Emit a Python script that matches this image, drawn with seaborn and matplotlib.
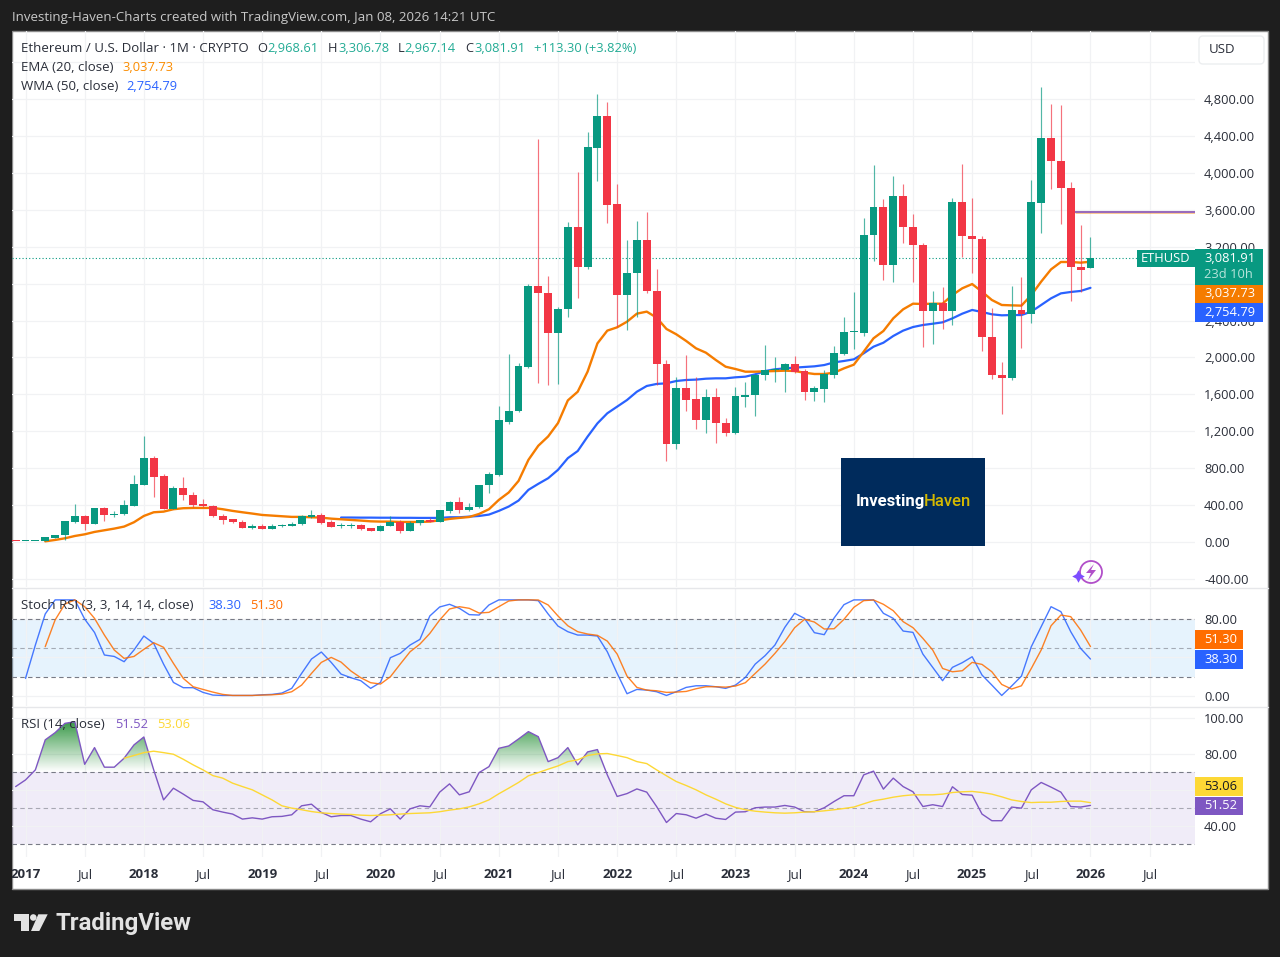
import numpy as np
import seaborn as sns
import matplotlib
matplotlib.use("Agg")
import matplotlib.pyplot as plt
from matplotlib.patches import Rectangle, Polygon, Circle, FancyBboxPatch
from matplotlib.path import Path

# monthly candles, Dec 2016 .. Jan 2026 (month 0 = Jan 2017)
opens = [8.2, 8, 10.7, 15.8, 43, 76, 214, 279, 192, 366, 290, 300, 395, 622, 905, 710, 358, 583, 510, 413, 395, 287,
         247, 218, 156, 170, 145, 170, 170, 192, 268, 294, 218, 170, 174, 181, 149, 123, 174, 218, 123, 207, 236,
         221, 337, 435, 348, 376, 615, 728, 1300, 1419, 1900, 2771, 2695, 2269, 2522, 3418, 2977, 4275, 4621, 3664,
         2677, 2912, 3270, 2720, 1926, 1062, 1673, 1546, 1319, 1568, 1293, 1178, 1572, 1593, 1806, 1861, 1864, 1929,
         1850, 1629, 1658, 1806, 2041, 2278, 2265, 3324, 3631, 3002, 3750, 3414, 3219, 2504, 2594, 2504, 3689, 3317,
         3288, 2222, 1810, 1781, 2515, 2471, 3678, 4375, 4130, 3837, 2984, 2968.61]
highs = [8.5, 11, 16, 55, 80, 232, 412, 297, 370, 380, 336, 456, 728, 1150, 935, 740, 608, 700, 540, 464, 402, 304,
         250, 235, 196, 200, 200, 196, 218, 294, 348, 312, 236, 210, 203, 192, 152, 189, 287, 240, 225, 243, 261,
         350, 446, 492, 427, 622, 757, 1477, 2034, 1936, 2793, 4368, 2880, 2544, 3465, 4014, 4448, 4856, 4769, 3880,
         3273, 3479, 3577, 2959, 1969, 1785, 2027, 1785, 1655, 1666, 1340, 1676, 1731, 1820, 2135, 2009, 1944, 2016,
         1875, 1691, 1861, 2128, 2439, 2706, 3515, 4086, 3721, 3967, 3880, 3555, 3237, 2721, 2760, 3732, 4094, 3732,
         3320, 2532, 1947, 2778, 2869, 3927, 4935, 4747, 4736, 3906, 3436, 3306.78]
lows = [7, 8, 10.4, 15.5, 42, 24, 203, 130, 190, 232, 275, 297, 390, 620, 492, 355, 355, 456, 377, 375, 268, 200,
        210, 150, 145, 140, 141, 165, 168, 188, 264, 192, 160, 156, 156, 134, 120, 120, 172, 94, 122, 181, 212,
        216, 319, 311, 340, 369, 536, 720, 1274, 1410, 1885, 1727, 1698, 1716, 2442, 2648, 2963, 3913, 3461, 2334,
        2298, 2442, 2700, 1702, 878, 1004, 1424, 1221, 1181, 1077, 1153, 1170, 1467, 1369, 1760, 1738, 1622, 1830,
        1539, 1532, 1521, 1781, 2030, 2092, 2236, 3049, 2843, 2815, 3237, 2815, 2117, 2150, 2305, 2352, 3093, 2919,
        2070, 1763, 1384, 1752, 2106, 2377, 3353, 3823, 3443, 2616, 2713, 2967.14]
closes = [8, 10.7, 15.8, 50, 80, 228, 279, 192, 366, 293, 305, 402, 630, 905, 703, 358, 583, 507, 405, 385, 283, 243,
          214, 156, 174, 145, 178, 185, 196, 280, 297, 210, 163, 181, 185, 145, 123, 178, 218, 123, 207, 236, 221,
          345, 435, 348, 384, 619, 738, 1318, 1423, 1911, 2771, 2699, 2269, 2525, 3418, 2984, 4278, 4621, 3656, 2677,
          2916, 3270, 2717, 1926, 1062, 1673, 1543, 1319, 1568, 1290, 1181, 1579, 1597, 1814, 1861, 1875, 1929, 1843,
          1629, 1666, 1817, 2049, 2273, 2282, 3328, 3631, 3002, 3750, 3411, 3216, 2504, 2594, 2504, 3689, 3317, 3284,
          2218, 1806, 1781, 2515, 2471, 3682, 4375, 4126, 3833, 2984, 2952, 3081.91]

# moving averages, both end on Jan 2026
ema20 = [7, 22, 40, 65, 83, 109, 127, 145, 167, 214, 282, 322, 329, 355, 366, 369, 369, 369, 355, 337, 322, 308, 293,
         286, 279, 272, 272, 268, 264, 253, 246, 239, 232, 224, 221, 221, 217, 217, 217, 221, 235, 250, 261, 271, 304,
         355, 456, 536, 662, 890, 1043, 1144, 1289, 1535, 1629, 1846, 2153, 2291, 2327, 2388, 2475, 2497, 2432, 2309,
         2251, 2179, 2099, 2052, 1973, 1900, 1875, 1846, 1846, 1850, 1853, 1857, 1853, 1835, 1821, 1821, 1835, 1882,
         1922, 2063, 2208, 2287, 2424, 2522, 2583, 2580, 2583, 2583, 2677, 2750, 2796, 2713, 2623, 2569, 2565, 2562,
         2677, 2822, 2955, 3035, 3035, 3028, 3037.73]
wma50 = [265, 265, 264, 264, 263, 263, 262, 262, 261, 261, 261, 268, 268, 275, 282, 297, 337, 384, 449, 565, 630, 691,
         782, 909, 986, 1142, 1286, 1395, 1467, 1539, 1629, 1691, 1713, 1720, 1745, 1756, 1760, 1770, 1774, 1774, 1785,
         1792, 1817, 1853, 1872, 1882, 1890, 1897, 1904, 1918, 1947, 1962, 1980, 2045, 2117, 2160, 2233, 2291, 2330,
         2352, 2366, 2381, 2424, 2475, 2515, 2493, 2468, 2457, 2460, 2460, 2497, 2569, 2641, 2695, 2710, 2721, 2754.79]

stoch_k = [18.1, 52.9, 85.3, 100, 100, 100, 80, 66, 42.5, 41, 35.5, 47.7, 62.3, 54.6, 33, 13.9, 8.4, 8.4, 3.5, 0.7, 0.3,
           0.3, 0.3, 0.3, 1, 1.4, 2.8, 7.7, 23.3, 38.3, 45.6, 34.8, 22.6, 18.8, 15.7, 7.7, 13.9, 39.7, 44.2, 52.9, 58.8,
           83.2, 92.6, 95.4, 91.2, 84.6, 84.2, 94.7, 100, 100, 100, 100, 99.2, 85.3, 72.7, 66.8, 63.3, 63.3, 62.3, 45.9,
           23.3, 2.1, 6.6, 5.9, 4.2, 0.3, 4.2, 8.7, 10.4, 10.4, 9.4, 7.7, 11.1, 19.1, 33, 41.8, 52.9, 71.3, 86, 80.7,
           65.8, 63.7, 81.1, 95, 100, 100, 100, 86, 80.7, 67.5, 66.1, 43.5, 29.6, 15.7, 29.6, 34.5, 40.7, 21.6, 11.1, 0.3,
           10.1, 20.5, 51.2, 72, 92.9, 87.7, 66.8, 49.4, 38.3]
stoch_d = [51.2, 79, 95.7, 100, 92.9, 80.7, 63.3, 47.7, 39, 41, 48.4, 55.3, 50.5, 33.8, 18.1, 9.4, 6.6, 3.8, 1.4, 0.3,
           0.3, 0.3, 0.7, 1, 1.7, 4.2, 11.1, 23.3, 34.8, 40, 35.1, 25.8, 18.8, 13.6, 12.2, 19.8, 33, 45.9, 53.9, 65, 79,
           90.5, 92.9, 91.2, 86.3, 87, 92.9, 98.8, 100, 100, 99.9, 94.7, 83.2, 73, 66.8, 64.4, 63, 57, 43.5, 20.5, 8.7,
           5.9, 5.2, 3.5, 3.8, 4.5, 7.3, 9.4, 9.4, 9, 10.1, 13.6, 23.3, 33, 44.2, 56.4, 71, 79.7, 76.9, 69.6, 69.9, 79.7,
           92.2, 99.2, 99.9, 95.4, 88.7, 77.3, 71, 59.9, 47.7, 28.5, 25, 26.1, 34.8, 32.7, 25, 11.8, 7, 10.4, 28.5, 47.7,
           73, 84.2, 82.5, 68.6, 51.3]

rsi = [62, 65.7, 71.3, 88, 92, 97.2, 98.1, 74.4, 83.7, 72.8, 72.8, 77.8, 85.2, 89.6, 71.3, 54.6, 61.1, 57.8, 54.3, 53.5,
       49.1, 47.8, 46.7, 43.9, 44.6, 43.9, 45.2, 45.4, 46.3, 51.3, 52.2, 47.6, 45.2, 45.9, 45.9, 43.9, 42.4, 46.9, 49.6,
       43.9, 49.6, 51.3, 50.7, 58.9, 63.5, 57.4, 59.1, 69.8, 73.1, 83.3, 84.6, 88.5, 92.6, 89.8, 75.9, 78.1, 83.7, 74.1,
       81.3, 82.6, 68.5, 56.5, 58.1, 60.7, 58.9, 50.9, 42, 47, 46.3, 44.4, 46.7, 44.4, 43.7, 47.8, 48, 50.2, 50.6, 50.6,
       51.5, 50.6, 48, 48, 50.2, 53.7, 56.9, 56.9, 68.5, 70.6, 60.6, 66.7, 62, 59.1, 50.9, 51.9, 50.9, 61.9, 57.6, 57.2,
       46.7, 43, 43, 50.6, 50, 60.2, 64.3, 61.7, 58.9, 50.9, 50.6, 51.52]
rsi_ma = [77.8, 79.3, 80.9, 81.7, 80.9, 80, 77.2, 74.1, 71.3, 68.1, 66.7, 63.9, 62, 60.2, 57.4, 54.6, 51.3, 50, 49.1, 48.1,
          47.4, 47, 46.7, 46.5, 46.1, 45.9, 46.1, 46.3, 46.7, 47, 47.2, 47.4, 48, 48.9, 49.6, 50.7, 52.4, 54.6, 58, 61.1,
          64.3, 68, 69.8, 71.7, 73.5, 75.9, 76.9, 79.3, 80.2, 80.4, 79.3, 78.1, 75.9, 74.8, 71.3, 68, 64.8, 62.6, 60.2,
          57.4, 55, 52.4, 50.4, 49.1, 48.3, 47.8, 47.4, 47.2, 47.4, 47.8, 48, 48.5, 49.1, 49.8, 50.6, 52.4, 54.1, 55, 56.1,
          56.9, 57.4, 57.4, 57.4, 57.8, 58.7, 59.1, 59.3, 58.7, 57.8, 56.3, 54.6, 53.7, 53.1, 53.3, 53.3, 53.7, 53.9, 53.9,
          53.06]

price_ticks = list(range(-400, 5201, 400))
stoch_ticks = [0, 40, 80]
rsi_ticks = [40, 60, 80, 100]
# these sit fully behind the price tags or the USD box in the reference
hidden_ticks = {5200, 2800}, {40}, {60}
tick_months = list(range(0, 115, 6))
tick_labels = [str(2017 + m // 12) if m % 12 == 0 else "Jul" for m in tick_months]
last_price = 3081.91
drawn_level = 3575
drawn_level_start = 106.4

GREEN, RED = "#089981", "#f23645"
ORANGE, BLUE = "#f57c00", "#2962ff"
TEXT = "#2a2e39"
BG = "#1e1e1e"
FONT = "Open Sans"

sns.set_theme(style="white")
plt.rcParams["font.family"] = [FONT, "DejaVu Sans"]

W, H = 1280, 957
fig = plt.figure(figsize=(W / 100, H / 100), dpi=100, facecolor=BG)


def pane(x0, y0, x1, y1, zorder=1):
    return fig.add_axes([x0 / W, 1 - y1 / H, (x1 - x0) / W, (y1 - y0) / H], zorder=zorder)


# white chart frame behind the panes
back = pane(0, 0, W, H, zorder=0)
back.set_xlim(0, W)
back.set_ylim(H, 0)
back.axis("off")
back.add_patch(Rectangle((12, 31), 1256, 858, fc="white", ec="#8a8a8a", lw=1))

months = np.arange(-1, 109)
xlim = (-1.37, 118.6)
ax_p = pane(12, 31, 1195, 587, 1)
ax_s = pane(12, 588, 1195, 706, 1)
ax_r = pane(12, 707, 1195, 857, 1)

for ax, ticks, hidden in zip((ax_p, ax_s, ax_r), (price_ticks, stoch_ticks, rsi_ticks), hidden_ticks):
    ax.patch.set_alpha(0)
    sns.despine(ax=ax, left=True, bottom=True, top=True, right=True)
    ax.set_xticks(tick_months)
    ax.set_yticks(ticks)
    ax.grid(True, color="#f1f2f4", lw=0.9)
    ax.set_axisbelow(True)
    ax.yaxis.tick_right()
    ax.set_yticklabels(["" if t in hidden else f"{t:,.2f}" for t in ticks])
    ax.tick_params(axis="y", length=0, pad=6.5, labelsize=9.3, labelcolor=TEXT)
    ax.tick_params(axis="x", length=0, labelbottom=False)
    ax.set_xlabel("")
    ax.set_ylabel("")

# candles
o, h, l, c = map(np.array, (opens, highs, lows, closes))
colors = np.where(c >= o, GREEN, RED)
ax_p.vlines(months, l, h, colors=colors, lw=0.85, alpha=0.7, zorder=2)
body = np.maximum(np.abs(c - o), 12)
ax_p.bar(months, body, bottom=np.minimum(o, c), width=0.8, color=colors, lw=0, zorder=2.2)

sns.lineplot(x=months[-len(ema20):], y=ema20, ax=ax_p, color=ORANGE, lw=1.7, zorder=1.6)
sns.lineplot(x=months[-len(wma50):], y=wma50, ax=ax_p, color=BLUE, lw=1.6, zorder=1.5)
ax_p.axhline(last_price, color=GREEN, lw=0.8, ls=(0, (1, 2)), zorder=1.4)
ax_p.hlines(drawn_level - 14, drawn_level_start, xlim[1], color=ORANGE, lw=0.5, alpha=0.6, zorder=1.7)
ax_p.hlines(drawn_level, drawn_level_start, xlim[1], color="#7b3fa8", lw=1.1, zorder=1.8)
ax_p.set_xlim(xlim)
ax_p.set_ylim(-488, 5539)

# stoch rsi
ax_s.axhspan(20, 80, color="#2196f3", alpha=0.11, lw=0, zorder=0.5)
for lvl in (20, 50, 80):
    ax_s.axhline(lvl, color="#787b86", lw=0.8, ls=(0, (4, 3)), alpha=0.6 if lvl == 50 else 1, zorder=1)
sns.lineplot(x=months[-len(stoch_k):], y=stoch_k, ax=ax_s, color=BLUE, lw=1, alpha=0.85, zorder=2)
sns.lineplot(x=months[-len(stoch_d):], y=stoch_d, ax=ax_s, color="#ff6d00", lw=1, alpha=0.85, zorder=2.1)
ax_s.set_xlim(xlim)
ax_s.set_ylim(-10.7, 112.4)

# rsi
ax_r.axhspan(30, 70, color="#7e57c2", alpha=0.11, lw=0, zorder=0.5)
for lvl in (30, 50, 70):
    ax_r.axhline(lvl, color="#787b86", lw=0.8, ls=(0, (4, 3)), alpha=0.6 if lvl == 50 else 1, zorder=1)
rsi_arr = np.array(rsi)
over = ax_r.fill_between(months, 70, rsi_arr, where=rsi_arr >= 70, interpolate=True, color="none", lw=0)
shade = np.zeros((64, 2, 4))
shade[..., :3] = (0.18, 0.58, 0.24)
shade[..., 3] = np.linspace(0, 1, 64)[:, None]
img = ax_r.imshow(shade, extent=(xlim[0], xlim[1], 70, 100), origin="lower", aspect="auto", zorder=1.5)
img.set_clip_path(Path.make_compound_path(*over.get_paths()), transform=ax_r.transData)
sns.lineplot(x=months, y=rsi, ax=ax_r, color="#7e57c2", lw=1, zorder=2)
sns.lineplot(x=months[-len(rsi_ma):], y=rsi_ma, ax=ax_r, color="#fdd835", lw=1, zorder=2.1)
ax_r.set_xlim(xlim)
ax_r.set_ylim(22.8, 106.3)

# time axis
ax_r.tick_params(axis="x", labelbottom=True, pad=8, labelsize=9.5, labelcolor=TEXT)
ax_r.set_xticklabels(tick_labels)
for lab, m in zip(ax_r.get_xticklabels(), tick_months):
    lab.set_fontweight("bold" if m % 12 == 0 else "normal")

# everything in pixels on top of the panes
top = pane(0, 0, W, H, zorder=5)
top.patch.set_alpha(0)
top.set_xlim(0, W)
top.set_ylim(H, 0)
top.axis("off")
top.add_patch(Rectangle((0, 31), 11.5, 858, fc=BG, ec="none"))
top.plot([12, 1268], [587.5, 587.5], color="#e6e7ea", lw=1)
top.plot([12, 1268], [706.5, 706.5], color="#e6e7ea", lw=1)


def label(x, y, s, color=TEXT, size=9.3, **kw):
    top.text(x, y + 0.8, s, color=color, fontsize=size, va="center", ha="left", **kw)


def tag(x0, y0, x1, y1, fc, s, color="white", tx=None):
    top.add_patch(Rectangle((x0, y0), x1 - x0, y1 - y0, fc=fc, ec="none"))
    label(tx if tx else x0 + 9, (y0 + y1) / 2 - 1, s, color=color)


TEAL = "#22ab94"
WORDS = 9.55
label(12, 17, "Investing-Haven-Charts created with TradingView.com, Jan 08, 2026 14:21 UTC", color="#c9c9c9", size=WORDS)
label(21, 48, "Ethereum / U.S. Dollar · 1M · CRYPTO", size=WORDS)
for x, s, col in ((257.5, "O", TEXT), (267, "2,968.61", TEAL), (328, "H", TEXT), (338, "3,306.78", TEAL),
                  (398, "L", TEXT), (404.5, "2,967.14", TEAL), (465, "C", TEXT), (474, "3,081.91", TEAL),
                  (534.5, "+113.30 (+3.82%)", TEAL)):
    label(x, 48, s, color=col)
label(21, 67, "EMA (20, close)", size=WORDS)
label(122, 67, "3,037.73", color="#fb8c00")
label(21, 86, "WMA (50, close)", size=WORDS)
label(126, 86, "2,754.79", color=BLUE)
label(21, 605, "Stoch RSI (3, 3, 14, 14, close)", size=WORDS)
label(208.5, 605, "38.30", color=BLUE)
label(250, 605, "51.30", color="#ff6d00")
label(21, 724, "RSI (14, close)", size=WORDS)
label(115, 724, "51.52", color="#7e57c2")
label(157, 724, "53.06", color="#fdd835")

# usd box
top.add_patch(FancyBboxPatch((1199, 36), 65, 28, boxstyle="round,pad=0,rounding_size=4", fc="white", ec="#eceef0", lw=1))
label(1209, 48.5, "USD", size=WORDS)

# price tags
tag(1137, 250, 1195, 267, GREEN, "ETHUSD", tx=1141)
top.add_patch(Rectangle((1195, 249), 68, 36, fc=GREEN, ec="none"))
label(1204, 257.5, "3,081.91", color="white")
label(1204, 274, "23d 10h", color="#b8e4db")
tag(1195, 285, 1263, 303, ORANGE, "3,037.73")
tag(1195, 303, 1263, 322, BLUE, "2,754.79")
tag(1195, 630, 1243, 649, "#ff6d00", "51.30", tx=1204)
tag(1195, 650, 1243, 669, BLUE, "38.30", tx=1204)
tag(1195, 777, 1243, 796, "#fdd835", "53.06", color="#131722", tx=1204)
tag(1195, 797, 1243, 815, "#7e57c2", "51.52", tx=1204)

# logo box
top.add_patch(Rectangle((841, 458), 144, 88, fc="#002b5c", ec="none"))
label(856, 500.5, "Investing", color="white", size=12, fontweight="semibold", family="Roboto")
label(924, 500.5, "Haven", color="#d4b900", size=12, fontweight="medium", family="Roboto")

# bolt icon
top.add_patch(Circle((1091, 572), 11, fc="none", ec="#b14fc9", lw=1.3))
top.add_patch(Polygon([(1094, 564), (1086, 573), (1091, 573), (1088, 580), (1096, 570), (1091, 570)], fc="#b14fc9", ec="none"))
top.plot([1078], [576], marker=(4, 1, 0), ms=9, color="#7c4dff", mec="none")

# tradingview mark
logo_col = "#e3e3e3"
top.add_patch(Polygon([(14, 914.3), (29, 914.3), (29, 931), (20.7, 931), (20.7, 921), (14, 921)], fc=logo_col, ec="none"))
top.add_patch(Circle((33.3, 917.5), 3.3, fc=logo_col, ec="none"))
top.add_patch(Polygon([(38.3, 914.3), (47.7, 914.3), (39.3, 931), (31, 931)], fc=logo_col, ec="none"))
label(55.5, 922.5, "TradingView", color=logo_col, size=17.3, fontweight="semibold", family="Roboto")

fig.savefig("out.png", dpi=100, facecolor=BG)
